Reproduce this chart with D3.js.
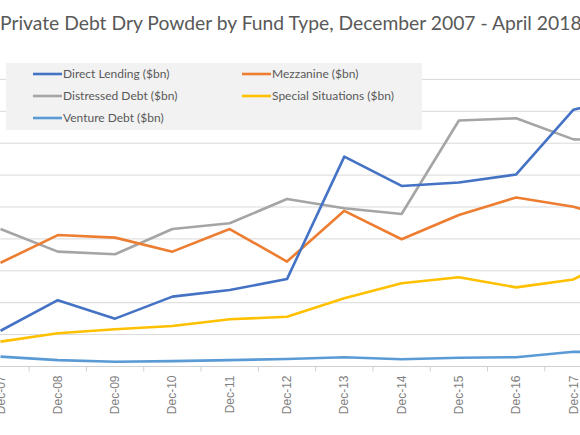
<!DOCTYPE html>
<html>
<head>
<meta charset="utf-8">
<script src="https://cdn.jsdelivr.net/npm/d3@7"></script>
<style>
  html, body { margin: 0; padding: 0; background: #fff; overflow: hidden; }
</style>
</head>
<body>
<div id="chart"></div>
<script>
// DATA
var categories = ['Dec-07', 'Dec-08', 'Dec-09', 'Dec-10', 'Dec-11', 'Dec-12',
   'Dec-13', 'Dec-14', 'Dec-15', 'Dec-16', 'Dec-17', 'Apr-18'];
var directLending = [11.2, 20.8, 15.0, 21.9, 24.0, 27.4, 65.8, 56.6, 57.7, 60.2, 80.5, 85];
var mezzanine = [32.5, 41.2, 40.4, 36.0, 43.1, 32.9, 48.8, 39.9, 47.5, 53.0, 50.1, 45];
var distressedDebt = [43.1, 36.0, 35.2, 43.1, 44.9, 52.5, 49.6, 47.8, 77.1, 77.8, 71.2, 71];
var specialSituations = [7.8, 10.4, 11.7, 12.7, 14.8, 15.6, 21.4, 26.1, 28.0, 24.8, 27.3, 37];
var ventureDebt = [3.1, 2.0, 1.5, 1.7, 2.0, 2.35, 2.9, 2.25, 2.75, 2.9, 4.6, 4.5];
var yTicks = [0, 10, 20, 30, 40, 50, 60, 70, 80, 90];

var series = [
   { name: 'Direct Lending ($bn)', values: directLending, color: '#4472C4' },
   { name: 'Mezzanine ($bn)', values: mezzanine, color: '#ED7D31' },
   { name: 'Distressed Debt ($bn)', values: distressedDebt, color: '#A5A5A5' },
   { name: 'Special Situations ($bn)', values: specialSituations, color: '#FFC000' },
   { name: 'Venture Debt ($bn)', values: ventureDebt, color: '#5B9BD5' }
];

// SETTINGS
var settings = {
   width: 580,
   height: 435,
   step: 57.3,
   first: 0.5,
   top: 79.4,
   bottom: 366.5
};

// SCALES
var xBand = d3.scaleBand()
   .domain(categories)
   .range([settings.first - settings.step / 2, settings.first - settings.step / 2 + settings.step * categories.length])
   .padding(0)

var x = (c) => { return xBand(c) + xBand.bandwidth() / 2 }

var y = d3.scaleLinear()
   .domain([0, 90])
   .range([settings.bottom, settings.top])

// CANVAS
var canvas = d3.select('#chart').append('svg')
   .attr('width', settings.width)
   .attr('height', settings.height)

// TITLE
canvas.append('text')
   .attr('x', 0)
   .attr('y', 30)
   .attr('font-family', 'Lato, sans-serif')
   .attr('font-size', 19.3)
   .attr('fill', '#595959')
   .text('Private Debt Dry Powder by Fund Type, December 2007 - April 2018')

// GRIDLINES
canvas.append('g')
   .selectAll('line')
   .data(yTicks.slice(1))
      .enter().append('line')
         .attr('x1', -30)
         .attr('x2', settings.width + 10)
         .attr('y1', (d) => { return y(d) })
         .attr('y2', (d) => { return y(d) })
         .attr('stroke', '#d9d9d9')
         .attr('stroke-width', 1)

// X AXIS
var xAxis = canvas.append('g')
   .attr('transform', 'translate(0,' + settings.bottom + ')')

xAxis.append('line')
   .attr('x1', -30)
   .attr('x2', settings.width + 10)
   .attr('stroke', '#d0d0d0')
   .attr('stroke-width', 1)

xAxis.selectAll('line.tick')
   .data(categories)
      .enter().append('line')
         .attr('class', 'tick')
         .attr('x1', (d) => { return xBand(d) })
         .attr('x2', (d) => { return xBand(d) })
         .attr('y1', 0)
         .attr('y2', 5)
         .attr('stroke', '#d0d0d0')

xAxis.selectAll('text')
   .data(categories)
      .enter().append('text')
         .attr('transform', (d) => { return 'translate(' + (x(d) + 4) + ',9) rotate(-90)' })
         .attr('text-anchor', 'end')
         .attr('font-family', 'Liberation Sans, Arial, sans-serif')
         .attr('font-size', 12)
         .attr('fill', '#7f7f7f')
         .text((d) => { return d })

// LINES
var pathify = d3.line()
   .x((d, i) => { return x(categories[i]) })
   .y((d) => { return y(d) })

canvas.append('g')
   .selectAll('path')
   .data(series.slice().reverse())
      .enter().append('path')
         .attr('fill', 'none')
         .attr('stroke', (d) => { return d.color })
         .attr('stroke-width', 2.6)
         .attr('stroke-linejoin', 'round')
         .attr('d', (d) => { return pathify(d.values) })

// LEGEND
var legend = canvas.append('g')

legend.append('rect')
   .attr('x', 6)
   .attr('y', 63)
   .attr('width', 416)
   .attr('height', 67)
   .attr('fill', '#f2f2f2')

var items = legend.selectAll('g')
   .data(series)
      .enter().append('g')
         .attr('transform', (d, i) => {
            return 'translate(' + (i % 2 === 0 ? 33 : 242) + ',' + (74 + Math.floor(i / 2) * 22) + ')'
         })

items.append('line')
   .attr('x1', 0)
   .attr('x2', 29)
   .attr('stroke', (d) => { return d.color })
   .attr('stroke-width', 2.6)

items.append('text')
   .attr('x', 30)
   .attr('dy', '0.35em')
   .attr('font-family', 'Lato, sans-serif')
   .attr('font-size', 12)
   .attr('fill', '#595959')
   .text((d) => { return d.name })
</script>
</body>
</html>
